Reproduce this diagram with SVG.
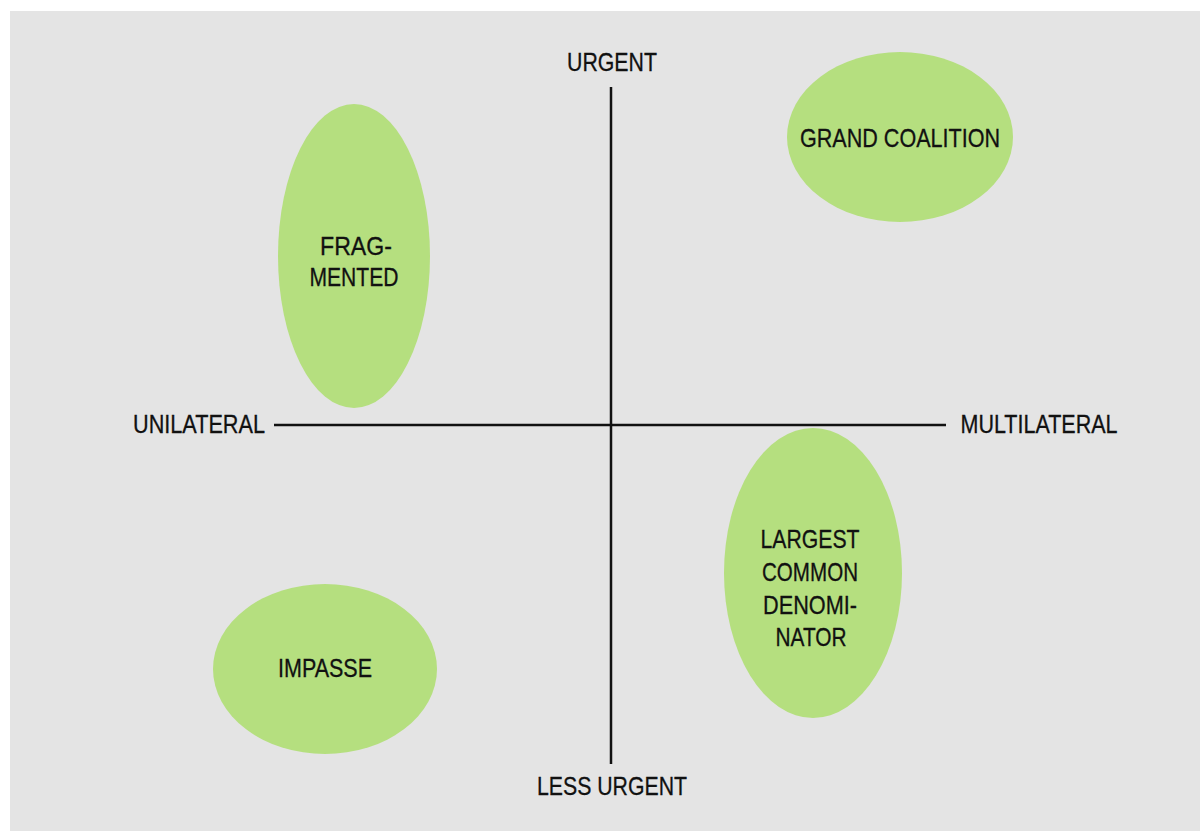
<svg xmlns="http://www.w3.org/2000/svg" width="1200" height="831" viewBox="0 0 1200 831">
  <style>
    .bg { fill: #e4e4e4; }
    .blob { fill: #b5df7f; }
    .axis { stroke: #111; stroke-width: 2.5; fill: none; }
    .lbl { font-family: "Liberation Sans", Arial, sans-serif; font-size: 26px; fill: #111; stroke: #111; stroke-width: 0.3; text-anchor: middle; }
  </style>
  <rect x="0" y="0" width="1200" height="831" fill="#ffffff"/>
  <rect class="bg" x="10" y="11" width="1190" height="820"/>

  <g id="connectors">
    <line class="axis" x1="274" y1="425" x2="946" y2="425"/>
    <line class="axis" x1="611" y1="87" x2="611" y2="764"/>
  </g>

  <g id="axis-labels">
    <text class="lbl" x="612" y="71" textLength="90" lengthAdjust="spacingAndGlyphs">URGENT</text>
    <text class="lbl" x="612" y="795" textLength="150" lengthAdjust="spacingAndGlyphs">LESS URGENT</text>
    <text class="lbl" x="199" y="433" textLength="132" lengthAdjust="spacingAndGlyphs">UNILATERAL</text>
    <text class="lbl" x="1039" y="433" textLength="157" lengthAdjust="spacingAndGlyphs">MULTILATERAL</text>
  </g>

  <g id="fragmented">
    <ellipse class="blob" cx="354" cy="256" rx="76" ry="152"/>
    <text class="lbl" x="356" y="255" textLength="72" lengthAdjust="spacingAndGlyphs">FRAG-</text>
    <text class="lbl" x="354" y="286" textLength="89" lengthAdjust="spacingAndGlyphs">MENTED</text>
  </g>

  <g id="grand-coalition">
    <ellipse class="blob" cx="900" cy="137" rx="113" ry="85"/>
    <text class="lbl" x="900" y="147" textLength="200" lengthAdjust="spacingAndGlyphs">GRAND COALITION</text>
  </g>

  <g id="largest-common-denominator">
    <ellipse class="blob" cx="813" cy="573" rx="89" ry="145"/>
    <text class="lbl" x="810" y="548" textLength="99" lengthAdjust="spacingAndGlyphs">LARGEST</text>
    <text class="lbl" x="810" y="581" textLength="96" lengthAdjust="spacingAndGlyphs">COMMON</text>
    <text class="lbl" x="810" y="614" textLength="94" lengthAdjust="spacingAndGlyphs">DENOMI-</text>
    <text class="lbl" x="811" y="646" textLength="71" lengthAdjust="spacingAndGlyphs">NATOR</text>
  </g>

  <g id="impasse">
    <ellipse class="blob" cx="325" cy="669" rx="112" ry="85"/>
    <text class="lbl" x="325" y="677" textLength="94" lengthAdjust="spacingAndGlyphs">IMPASSE</text>
  </g>
</svg>
